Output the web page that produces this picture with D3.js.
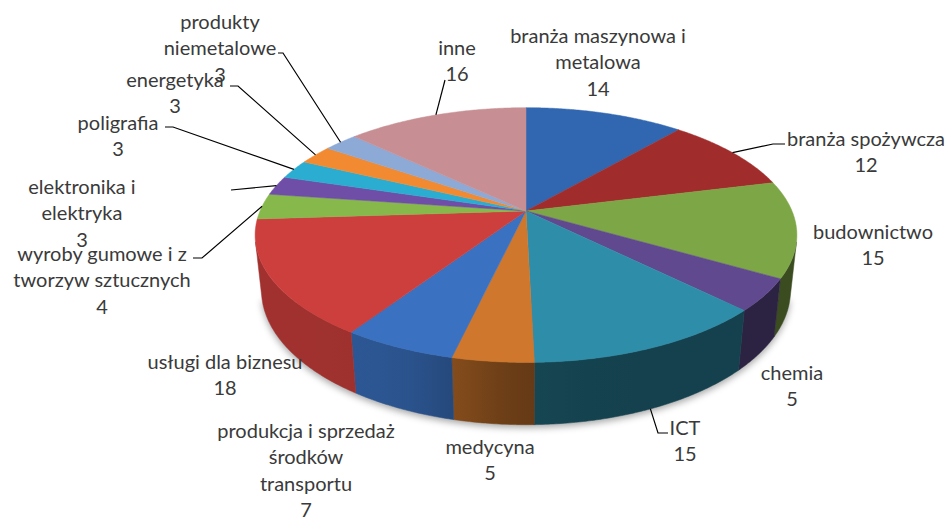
<!DOCTYPE html>
<html>
<head>
<meta charset="utf-8">
<script src="https://cdn.jsdelivr.net/npm/d3@7"></script>
<style>
  html, body { margin: 0; padding: 0; background: #ffffff; }
  svg { display: block; }
</style>
</head>
<body>
<svg id="chart" width="947" height="517"></svg>
<script>
// Branches and their counts, clockwise from 12 o'clock
const categories = [
  "branża maszynowa i\nmetalowa",
  "branża spożywcza",
  "budownictwo",
  "chemia",
  "ICT",
  "medycyna",
  "produkcja i sprzedaż\nśrodków\ntransportu",
  "usługi dla biznesu",
  "wyroby gumowe i z\ntworzyw sztucznych",
  "elektronika i\nelektryka",
  "poligrafia",
  "energetyka",
  "produkty\nniemetalowe",
  "inne"
];
const values = [14, 12, 15, 5, 15, 5, 7, 18, 4, 3, 3, 3, 3, 16];

// Top-face colour of each slice
const sliceColors = [
  "#3167b1", "#a02c2c", "#7da646", "#60498f", "#2e8eaa", "#cf772c", "#3a71c0",
  "#cd3f3c", "#87b84c", "#6f4ea8", "#2badd1", "#f28a31", "#8da9d6", "#c78f93"
];

// Label placement: centre x, centre y of first line, optional leader-line points
const labelLayout = [
  { x: 598, y: 36 },
  { x: 866, y: 139, leader: [[773, 144], [785, 144]] },
  { x: 873, y: 232 },
  { x: 792, y: 373 },
  { x: 685, y: 428, leader: [[658, 433], [668, 433]], anchorBottom: true },
  { x: 490, y: 447 },
  { x: 306, y: 431 },
  { x: 225, y: 362 },
  { x: 102, y: 254, leader: [[202, 258], [193, 258]] },
  { x: 82, y: 187, leader: [[231, 190]] },
  { x: 118, y: 123, leader: [[173, 127], [165, 127]] },
  { x: 175, y: 80, leader: [[238, 86], [230, 86]] },
  { x: 220, y: 22, leader: [[283, 53], [278, 53]] },
  { x: 457, y: 48, leader: [[445, 80]] }
];

const lineHeight = 26.3;

// Perspective view of the disc: centre, horizontal radius, tilt, camera distance ratio, thickness
const view = { cx: 526, cy: 211, k: 266, tilt: 27.5 * Math.PI / 180, r: 0.213, thick: 0.235 };
const sinT = Math.sin(view.tilt), cosT = Math.cos(view.tilt);

// Project a point on the disc rim (angle a clockwise from 12 o'clock, height z in radius units)
function project(a, z, rho = 1) {
  const X = Math.sin(a) * rho, Y = -Math.cos(a) * rho;
  const depth = 1 - view.r * (Y * cosT + z * sinT);
  const v = -Y * sinT + z * cosT;
  return [view.cx + view.k * X / depth, view.cy - view.k * v / depth];
}

function arcPoints(a0, a1, z) {
  const n = Math.max(2, Math.ceil(Math.abs(a1 - a0) / (0.5 * Math.PI / 180)));
  return d3.range(n + 1).map(i => project(a0 + (a1 - a0) * i / n, z));
}

// Outer wall faces the camera where cos(a) < -r / cos(tilt)
const wallLimit = Math.acos(-view.r / cosT);
const wallMin = wallLimit, wallMax = 2 * Math.PI - wallLimit;

// Side shading: lit from the left-front, darker toward the right
function wallShade(color, a) {
  const s = Math.sin(a);
  const f = 0.62 - 0.16 * Math.tanh(5 * (s + 0.2));
  const c = d3.rgb(color);
  return d3.rgb(c.r * f, c.g * f, c.b * f).formatHex();
}

const svg = d3.select("#chart");
const defs = svg.append("defs");

const pie = d3.pie().sort(null).value(d => d)
  .startAngle(0).endAngle(2 * Math.PI);
const arcs = pie(values);

const line = d3.line();

// Soft shadow below the disc
const shadowFilter = defs.append("filter").attr("id", "shadow")
  .attr("x", "-20%").attr("y", "-20%").attr("width", "140%").attr("height", "140%");
shadowFilter.append("feGaussianBlur").attr("stdDeviation", 3.5);

svg.append("path")
  .attr("d", line(arcPoints(wallMin, wallMax, -view.thick).map(p => [p[0], p[1] + 3])) + "Z")
  .attr("fill", "rgba(0,0,0,0.35)")
  .attr("filter", "url(#shadow)");

// Side walls
const walls = svg.append("g");
arcs.forEach((d, i) => {
  const a0 = Math.max(d.startAngle, wallMin);
  const a1 = Math.min(d.endAngle, wallMax);
  if (a1 <= a0) return;
  const top = arcPoints(a0, a1, 0);
  const bottom = arcPoints(a0, a1, -view.thick).reverse();
  const gid = "wall" + i;
  const g = defs.append("linearGradient").attr("id", gid)
    .attr("gradientUnits", "userSpaceOnUse")
    .attr("x1", top[0][0]).attr("y1", 0)
    .attr("x2", top[top.length - 1][0]).attr("y2", 0);
  d3.range(5).forEach(j => {
    const t = j / 4;
    g.append("stop").attr("offset", t)
      .attr("stop-color", wallShade(sliceColors[i], a0 + (a1 - a0) * t));
  });
  walls.append("path")
    .attr("d", line(top.concat(bottom)) + "Z")
    .attr("fill", `url(#${gid})`)
    .attr("stroke", `url(#${gid})`)
    .attr("stroke-width", 0.5);
});

// Top faces
const tops = svg.append("g");
arcs.forEach((d, i) => {
  const pts = [[view.cx, view.cy]].concat(arcPoints(d.startAngle, d.endAngle, 0));
  tops.append("path")
    .attr("d", line(pts) + "Z")
    .attr("fill", sliceColors[i])
    .attr("stroke", sliceColors[i])
    .attr("stroke-width", 0.5);
});

// Leader lines
const leaders = svg.append("g")
  .attr("fill", "none").attr("stroke", "#000").attr("stroke-width", 1.2);
arcs.forEach((d, i) => {
  const L = labelLayout[i];
  if (!L.leader) return;
  const mid = (d.startAngle + d.endAngle) / 2;
  const anchor = project(mid, L.anchorBottom ? -view.thick : 0);
  leaders.append("path").attr("d", line([anchor].concat(L.leader)));
});

// Data labels: category name and value
const labels = svg.append("g")
  .attr("font-family", "Lato, 'Open Sans', sans-serif")
  .attr("font-size", 20)
  .attr("fill", "#3a3a3a")
  .attr("text-anchor", "middle");
arcs.forEach((d, i) => {
  const L = labelLayout[i];
  const lines = categories[i].split("\n").concat([String(values[i])]);
  const t = labels.append("text");
  lines.forEach((s, j) => {
    t.append("tspan")
      .attr("x", L.x)
      .attr("y", L.y + j * lineHeight)
      .attr("dy", "0.35em")
      .text(s);
  });
});
</script>
</body>
</html>
